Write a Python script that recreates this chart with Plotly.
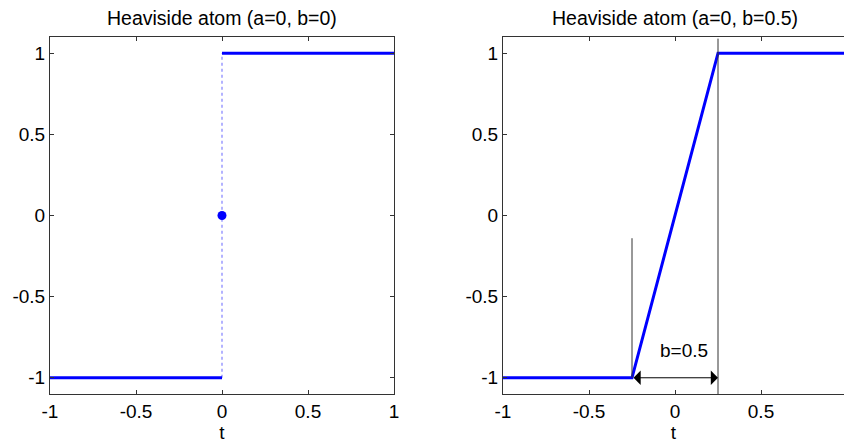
import plotly.graph_objects as go
from plotly.subplots import make_subplots

# ---- data ----
left_low_t = [-1, 0]
left_low_v = [-1, -1]
left_high_t = [0, 1]
left_high_v = [1, 1]
left_jump_t = [0, 0]
left_jump_v = [-1, 1]
left_point_t = [0]
left_point_v = [0]

right_t = [-1, -0.25, 0.25, 1]
right_v = [-1, -1, 1, 1]

# guide lines on the right panel: (t, v_start, v_end)
guide_left = (-0.25, -1.0, -0.14)
guide_right = (0.25, -1.1, 1.09)
arrow_t = [-0.25, 0.25]
arrow_v = -1.0
arrow_label = "b=0.5"
arrow_label_pos = (0.05, -0.83)

titles = ["Heaviside atom (a=0, b=0)", "Heaviside atom (a=0, b=0.5)"]
tick_vals = [-1, -0.5, 0, 0.5, 1]
tick_text = ["-1", "-0.5", "0", "0.5", "1"]

BLUE = "#0000ff"
FRAME = "#333333"
FONT = "Liberation Sans, Arial, sans-serif"
FS = 19

fig = make_subplots(rows=1, cols=2)

fig.add_trace(go.Scatter(x=left_jump_t, y=left_jump_v, mode="lines",
                         line=dict(color="#9a9aff", width=1.5, dash="dot"),
                         showlegend=False), 1, 1)
fig.add_trace(go.Scatter(x=left_low_t, y=left_low_v, mode="lines",
                         line=dict(color=BLUE, width=3), showlegend=False), 1, 1)
fig.add_trace(go.Scatter(x=left_high_t, y=left_high_v, mode="lines",
                         line=dict(color=BLUE, width=3), showlegend=False), 1, 1)
fig.add_trace(go.Scatter(x=left_point_t, y=left_point_v, mode="markers",
                         marker=dict(color=BLUE, size=9), showlegend=False), 1, 1)

fig.add_trace(go.Scatter(x=right_t, y=right_v, mode="lines",
                         line=dict(color=BLUE, width=3), showlegend=False), 1, 2)

for g in (guide_left, guide_right):
    fig.add_shape(type="line", x0=g[0], x1=g[0], y0=g[1], y1=g[2],
                  xref="x2", yref="y2", line=dict(color=FRAME, width=1))

fig.add_annotation(x=arrow_t[1], y=arrow_v, ax=arrow_t[0], ay=arrow_v,
                   xref="x2", yref="y2", axref="x2", ayref="y2",
                   text="", showarrow=True, arrowhead=1, startarrowhead=1,
                   arrowside="end+start", arrowsize=2.4, startarrowsize=2.4,
                   arrowwidth=1, arrowcolor="black")
fig.add_annotation(x=arrow_label_pos[0], y=arrow_label_pos[1], xref="x2", yref="y2",
                   text=arrow_label, showarrow=False,
                   font=dict(family=FONT, size=FS, color="black"))

W = 844.0
ML = 50
PW = W - ML
left_dom = [0, 344 / PW]
right_dom = [(503 - ML) / PW, 1.0]
right_xmax = -1 + (W - 503) / 172.0

axis_common = dict(showline=True, linecolor=FRAME, linewidth=1, ticks="inside",
                   ticklen=4, tickcolor=FRAME, showgrid=False, zeroline=False,
                   automargin=False,
                   tickfont=dict(family=FONT, size=FS, color="black"))

fig.update_xaxes(**axis_common, mirror="ticks", tickvals=tick_vals, ticktext=tick_text,
                 title=dict(text="t", font=dict(family=FONT, size=FS, color="black"), standoff=0))
fig.update_xaxes(range=[-1, 1], domain=left_dom, row=1, col=1)
fig.update_xaxes(range=[-1, right_xmax], domain=right_dom, row=1, col=2)
fig.update_yaxes(**axis_common, tickvals=tick_vals, ticktext=tick_text, range=[-1.1, 1.1])
fig.update_yaxes(mirror="ticks", row=1, col=1)
fig.update_yaxes(mirror=False, row=1, col=2)

centers_px = [222, 675]
for txt, c in zip(titles, centers_px):
    fig.add_annotation(x=(c - ML) / PW, y=1, xref="paper", yref="paper", xanchor="center",
                       yanchor="bottom", yshift=6, text=txt, showarrow=False,
                       font=dict(family=FONT, size=19.5, color="black"))

fig.update_layout(width=844, height=444, margin=dict(l=ML, r=0, t=37, b=50),
                  plot_bgcolor="white", paper_bgcolor="white")

fig.write_html("out.html", config={"displayModeBar": False},
               post_script="document.body.style.margin='0';document.body.style.overflow='hidden';")
